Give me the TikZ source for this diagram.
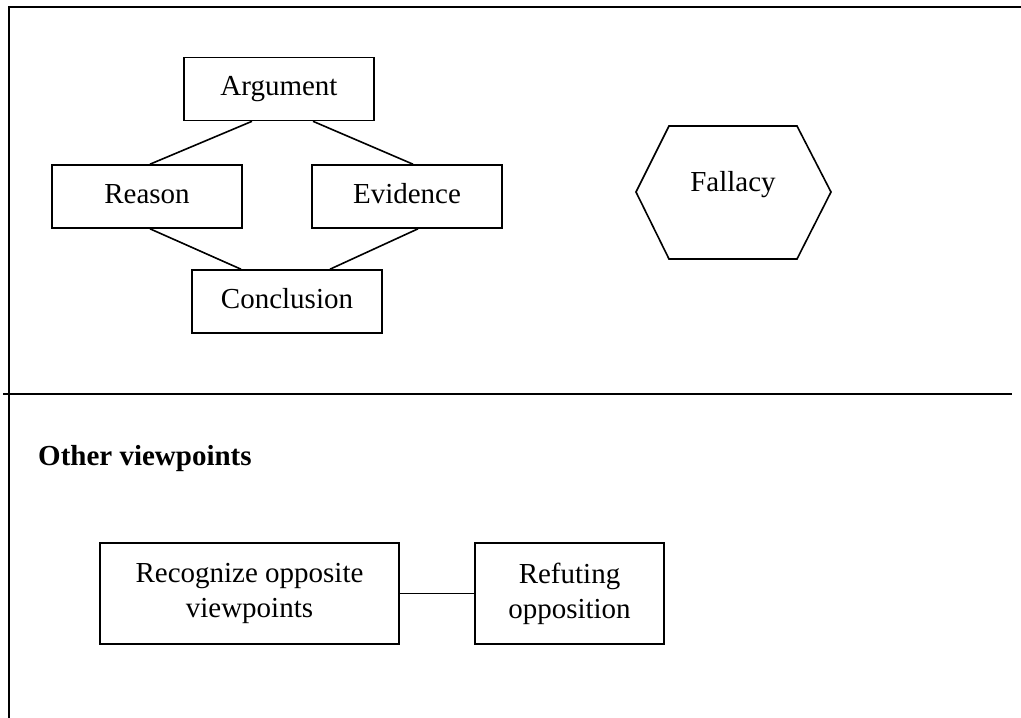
\documentclass[tikz,border=0pt]{standalone}
\usepackage{fontspec}
\setmainfont{Liberation Serif}
\usetikzlibrary{calc}
\begin{document}
\begin{tikzpicture}[x=1pt,y=-1pt,
  box/.style={draw,line width=1.6pt,inner sep=0pt,minimum width=190pt,minimum height=63pt,
    text height=19pt,text depth=6pt,font=\fontsize{29}{33}\selectfont},
  bigbox/.style={draw,line width=1.6pt,inner sep=0pt,align=center,font=\fontsize{29}{35}\selectfont},
  conn/.style={line width=1.6pt},
  frame/.style={line width=2.4pt},
  divider/.style={line width=1.8pt}]
\useasboundingbox (0,0) rectangle (1021,718);
% frame
\draw[frame] (9,718) -- (9,7) -- (1021,7);
\draw[divider] (3,394) -- (1012,394);
% top diagram
\node[box] (arg) at (279,89) {Argument};
\node[box] (rea) at (147,196.5) {Reason};
\node[box] (evi) at (407,196.5) {Evidence};
\node[box] (con) at (287,301.5) {Conclusion};
\draw[conn] ($(arg.south)+(-27,0)$) -- ($(rea.north)+(3,0)$);
\draw[conn] ($(arg.south)+(34,0)$) -- ($(evi.north)+(6,0)$);
\draw[conn] ($(rea.south)+(3,0)$) -- ($(con.north)+(-46,0)$);
\draw[conn] ($(evi.south)+(11,0)$) -- ($(con.north)+(43,0)$);
% hexagon
\draw[line width=1.6pt] (636,192) -- (669,126) -- (797,126) -- (831,192) -- (797,259) -- (669,259) -- cycle;
\node[anchor=base,inner sep=0pt,font=\fontsize{29}{33}\selectfont] (fal) at (733,191) {Fallacy};
% bottom
\node[anchor=base west,inner sep=0pt,font=\fontsize{29}{33}\selectfont\bfseries] (ov) at (38,465) {Other viewpoints};
\node[bigbox,minimum width=299pt,minimum height=101pt] (rec) at (249.5,593.5) {Recognize opposite\\viewpoints};
\node[bigbox,minimum width=189pt,minimum height=101pt] (ref) at (569.5,593.5) {Refuting\\opposition};
\draw[conn] (rec.east) -- (ref.west);
\end{tikzpicture}
\end{document}
